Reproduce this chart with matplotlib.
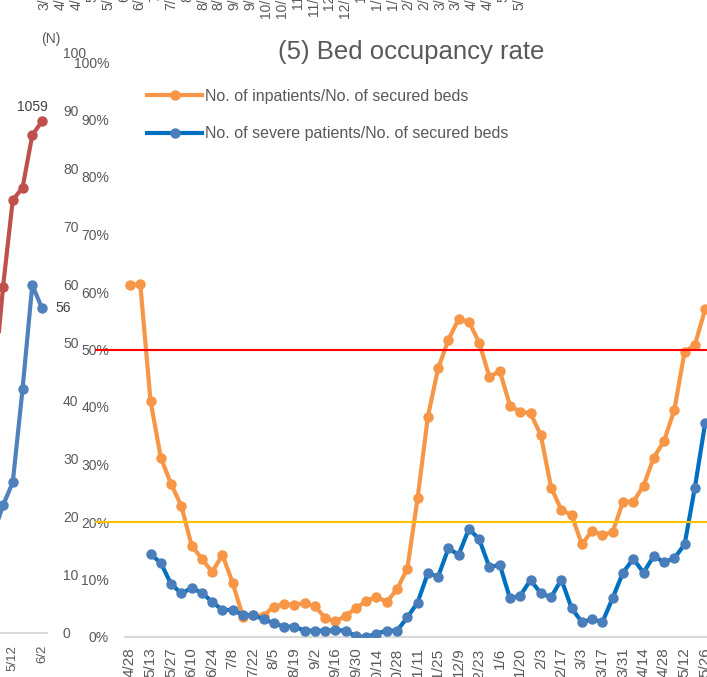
import matplotlib
matplotlib.use('Agg')
import matplotlib.pyplot as plt
import numpy as np

plt.rcParams['font.family'] = ['Liberation Sans', 'DejaVu Sans']

GRAY = '#595959'
AXIS = '#D9D9D9'
W, H = 707, 677

# --- main chart: bed occupancy rate (%), weekly ---
week_labels = ['4/28', '5/6', '5/13', '5/20', '5/27', '6/3', '6/10', '6/17', '6/24', '7/1',
               '7/8', '7/15', '7/22', '7/29', '8/5', '8/12', '8/19', '8/26', '9/2', '9/9',
               '9/16', '9/23', '9/30', '10/7', '10/14', '10/21', '10/28', '11/4', '11/11', '11/18',
               '11/25', '12/2', '12/9', '12/16', '12/23', '12/30', '1/6', '1/13', '1/20', '1/27',
               '2/3', '2/10', '2/17', '2/24', '3/3', '3/10', '3/17', '3/24', '3/31', '4/7',
               '4/14', '4/21', '4/28', '5/5', '5/12', '5/19', '5/26']
inpatient_rate = [61.2, 61.4, 41.0, 31.2, 26.6, 22.8, 15.9, 13.6, 11.3, 14.3,
                  9.4, 3.5, 3.8, 3.7, 5.3, 5.7, 5.6, 5.9, 5.4, 3.3,
                  2.7, 3.7, 5.0, 6.3, 7.0, 6.1, 8.3, 11.9, 24.1, 38.3,
                  46.7, 51.7, 55.3, 54.8, 51.2, 45.2, 46.3, 40.2, 39.2, 38.9,
                  35.1, 26.0, 22.1, 21.2, 16.1, 18.5, 17.7, 18.3, 23.5, 23.5,
                  26.3, 31.2, 34.1, 39.5, 49.6, 50.8, 57.0]
severe_rate = [np.nan, np.nan, 14.4, 12.9, 9.2, 7.6, 8.5, 7.7, 6.1, 4.7,
               4.7, 3.8, 3.8, 3.1, 2.4, 1.8, 1.8, 1.1, 1.1, 1.1,
               1.2, 1.1, 0.1, 0.0, 0.6, 1.1, 1.1, 3.4, 6.0, 11.1,
               10.5, 15.4, 14.3, 18.8, 17.0, 12.1, 12.6, 6.7, 7.2, 9.9,
               7.6, 6.9, 10.0, 5.0, 2.6, 3.1, 2.6, 6.8, 11.2, 13.6,
               11.2, 14.1, 13.0, 13.7, 16.1, 26.0, 37.2]
limit_levels = [50, 20]
limit_colors = ['#FF0000', '#FFC000']

# --- partial chart on the left (cut off) ---
left_dates = ['4/28', '5/5', '5/12', '5/19', '5/26', '6/2']
left_total = [495, 716, 896, 921, 1030, 1059]
left_severe = [17, 22, 26, 42, 60, 56]

# --- tick labels of the chart above (cut off) ---
top_labels = ['3/31', '4/14', '4/28', '5/5', '5/19', '6/2', '6/16', '7/7', '7/21', '8/4',
              '8/18', '8/25', '9/15', '9/29', '10/13', '10/27', '11/3', '11/17', '12/1', '12/15',
              '1/5', '1/19', '1/26', '2/16', '2/23', '3/16', '3/30', '4/13', '4/27', '5/4', '5/18']

fig = plt.figure(figsize=(W / 100, H / 100), dpi=100)

# main axes
ax = fig.add_axes([125 / W, 1 - 637 / H, 582 / W, (637 - 62) / H])
x = np.arange(len(week_labels))
ax.plot(x, inpatient_rate, color='#F79646', lw=3, marker='o', ms=6.5,
        mfc='#F79646', mec='#F79646', zorder=3,
        label='No. of inpatients/No. of secured beds')
ax.plot(x, severe_rate, color='#0070C0', lw=3, marker='o', ms=6.5,
        mfc='#4A7EBB', mec='#4A7EBB', zorder=4,
        label='No. of severe patients/No. of secured beds')
for lvl, col in zip(limit_levels, limit_colors):
    ax.plot([-3.3, len(week_labels) + 2], [lvl, lvl], color=col, lw=1.5,
            clip_on=False, zorder=5)

ax.set_xlim(-0.487, 56.18)
ax.set_ylim(0, 100)
ax.set_yticks(np.arange(0, 101, 10))
ax.set_yticklabels([f'{v}%' for v in range(0, 101, 10)])
ax.set_xticks(x[::2])
ax.set_xticklabels(week_labels[::2], rotation=90)
ax.tick_params(axis='y', length=0, pad=11.5, labelsize=10, labelcolor=GRAY)
ax.tick_params(axis='x', length=0, pad=7.5, labelsize=11, labelcolor=GRAY)
for s in ['top', 'right', 'left']:
    ax.spines[s].set_visible(False)
ax.spines['bottom'].set_color(AXIS)
ax.spines['bottom'].set_linewidth(1.5)

fig.text(411 / W, 1 - 52 / H, '(5) Bed occupancy rate', ha='center', va='center',
         fontsize=18.5, color=GRAY)
ax.legend(loc='upper left', bbox_to_anchor=(147 / W, 1 - 89 / H),
          bbox_transform=fig.transFigure, frameon=False, fontsize=11.5,
          handlelength=3.45, handletextpad=0.2, labelspacing=1.4,
          borderpad=0, borderaxespad=0, numpoints=1, labelcolor=GRAY)

# left partial chart
axl = fig.add_axes([0, 1 - 633 / H, 47 / W, (633 - 53) / H])
axr = axl.twinx()
xl = np.arange(len(left_dates))
axl.plot(xl, left_severe, color='#4F81BD', lw=3, marker='o', ms=6.5, zorder=3)
axl.set_xlim(0.69, 5.51)
axl.set_ylim(0, 100)
axl.yaxis.tick_right()
axl.set_yticks(np.arange(0, 101, 10))
axl.set_xticks(xl[2::3])
axl.set_xticklabels(left_dates[2::3], rotation=90)
axl.tick_params(axis='y', length=0, pad=11.5, labelsize=10, labelcolor=GRAY)
axl.tick_params(axis='x', length=0, pad=8.5, labelsize=9.5, labelcolor=GRAY)
for s in ['top', 'right', 'left']:
    axl.spines[s].set_visible(False)
axl.spines['bottom'].set_color(AXIS)
axl.spines['bottom'].set_linewidth(1.5)
axl.annotate(str(left_severe[-1]), (xl[-1], left_severe[-1]), xytext=(9.4, 0),
             textcoords='offset points', ha='left', va='center', fontsize=10,
             color='#404040', annotation_clip=False)

axr.plot(xl, left_total, color='#C0504D', lw=3, marker='o', ms=6.5)
axr.set_xlim(0.69, 5.51)
axr.set_ylim(0, 1200)
axr.axis('off')
axr.annotate(str(left_total[-1]), (xl[-1], left_total[-1]), xytext=(-7.2, 10),
             textcoords='offset points', ha='center', va='center', fontsize=10,
             color='#404040', annotation_clip=False)
fig.text(51 / W, 1 - 39 / H, '(N)', ha='center', va='center', fontsize=10, color=GRAY)

# chart above, only the ends of its date labels are visible
axt = fig.add_axes([37 / W, 1 + 17 / H, 490 / W, 0.02])
axt.set_xlim(-0.5, len(top_labels) - 0.5)
axt.set_xticks(np.arange(len(top_labels)))
axt.set_xticklabels(top_labels, rotation=90)
axt.tick_params(axis='x', length=0, pad=0, labelsize=10, labelcolor=GRAY)
axt.set_yticks([])
for s in axt.spines.values():
    s.set_visible(False)

fig.savefig('out.png', dpi=100)
